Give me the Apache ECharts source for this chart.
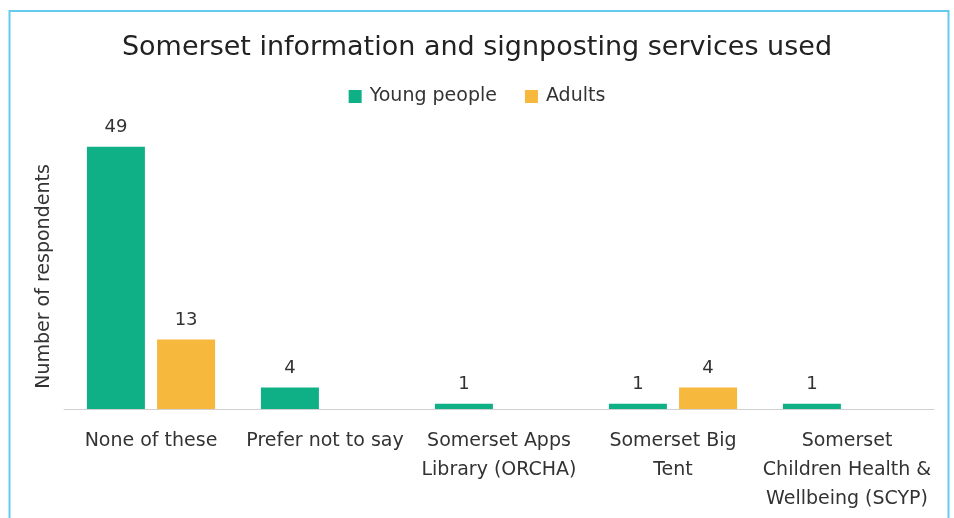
<!DOCTYPE html>
<html><head><meta charset="utf-8">
<script src="https://cdn.jsdelivr.net/npm/echarts@6/dist/echarts.min.js"></script>
<style>html,body{margin:0;padding:0;background:#fff}#c{width:954px;height:518px}</style>
</head><body><div id="c"></div>
<script>
const categories = ["None of these", "Prefer not to say", "Somerset Apps\nLibrary (ORCHA)", "Somerset Big\nTent", "Somerset\nChildren Health &\nWellbeing (SCYP)"];
const youngPeople = [49, 4, 1, 1, 1];
const adults = [13, null, null, 4, null];
const seriesNames = ["Young people", "Adults"];
const titleText = "Somerset information and signposting services used";
const yAxisName = "Number of respondents";

const FONT = "DejaVu Sans";
const chart = echarts.init(document.getElementById('c'));
chart.setOption({
  backgroundColor: '#fff',
  animation: false,
  textStyle: { fontFamily: FONT },
  title: { text: titleText, left: 'center', top: 29, textStyle: { fontFamily: FONT, fontSize: 27, fontWeight: 'normal', color: '#222' } },
  legend: { top: 82, left: 'center', itemWidth: 13, itemHeight: 13, itemGap: 28, icon: 'rect',
    textStyle: { fontFamily: FONT, fontSize: 19, color: '#333', padding: [0, 0, 0, 3] } },
  grid: { left: 64, right: 20, top: 120, bottom: 109, containLabel: false },
  xAxis: { type: 'category', data: categories,
    axisLine: { lineStyle: { color: '#d0d0d0', width: 1 } }, axisTick: { show: false },
    axisLabel: { interval: 0, fontFamily: FONT, fontSize: 19, color: '#333', lineHeight: 29, margin: 18 } },
  yAxis: { type: 'value', min: 0, max: 54, axisLabel: { show: false }, splitLine: { show: false },
    axisLine: { show: false }, axisTick: { show: false },
    name: yAxisName, nameLocation: 'middle', nameGap: 10, nameRotate: 90,
    nameTextStyle: { fontFamily: FONT, fontSize: 19, color: '#333', padding: [0, 24, 0, 0] } },
  series: [
    { name: seriesNames[0], type: 'bar', data: youngPeople, barWidth: 58, barGap: '21%', itemStyle: { color: '#10B087' },
      label: { show: true, position: 'top', distance: 10, fontFamily: FONT, fontSize: 18, color: '#333' } },
    { name: seriesNames[1], type: 'bar', data: adults, barWidth: 58, itemStyle: { color: '#F6B83D' },
      label: { show: true, position: 'top', distance: 10, fontFamily: FONT, fontSize: 18, color: '#333' } }
  ],
  graphic: [{ type: 'rect', shape: { x: 9.5, y: 11, width: 939, height: 520 }, style: { fill: null, stroke: '#64CBEF', lineWidth: 2 }, silent: true }]
});
</script></body></html>
